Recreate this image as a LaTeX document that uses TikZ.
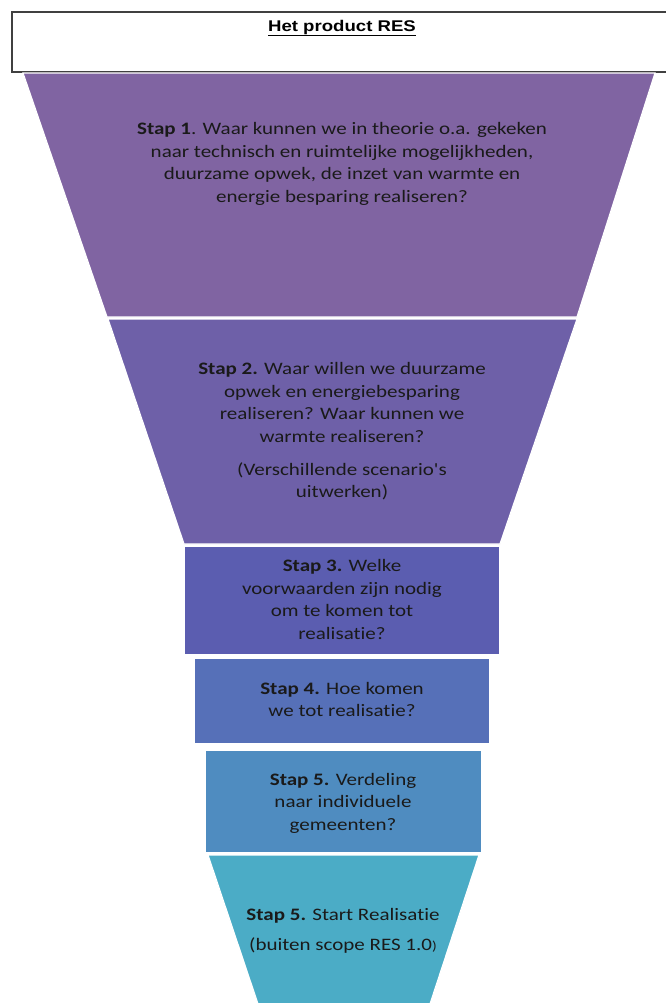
\documentclass[tikz,border=0pt]{standalone}
\usepackage{fontspec}
\setmainfont{Carlito}[Ligatures={NoCommon}]
\newfontfamily\arialfont{Liberation Sans}
\definecolor{cA}{HTML}{8064A2}
\definecolor{cB}{HTML}{6E60A8}
\definecolor{cC}{HTML}{5B5DB0}
\definecolor{cD}{HTML}{5670B8}
\definecolor{cE}{HTML}{4F8CC0}
\definecolor{cF}{HTML}{4BACC6}
\definecolor{txt}{HTML}{1A1A1A}
\newcommand{\wide}[1]{\scalebox{1.2}[1]{\begin{tabular}{@{}c@{}}#1\end{tabular}}}
\begin{document}
\begin{tikzpicture}[x=1pt,y=-1pt,
  seg/.style={draw=white,line width=1.2pt},
  lbl/.style={align=center,text=txt,font=\fontsize{17.5}{22.5}\selectfont,inner sep=0pt}]
\useasboundingbox (0,0) rectangle (665,1003);
% title box
\draw[draw=black!75,line width=1.2pt,fill=white] (12,12) rectangle (668,72);
\node[font=\arialfont\bfseries\fontsize{15.5}{18}\selectfont,inner sep=0pt] (title) at (342,28) {\scalebox{1.2}[1]{\underline{Het product RES}}};
% funnel pieces
\fill[cA,seg] (23,73) -- (655,73) -- (577,317) -- (107,317) -- cycle;
\fill[cB,seg] (108,319) -- (577,319) -- (500,544) -- (184,544) -- cycle;
\fill[cC,seg] (184,546) rectangle (500,655);
\fill[cD,seg] (194,658) rectangle (490,744);
\fill[cE,seg] (205,750) rectangle (482,853);
\fill[cF,seg] (208,855) -- (479,855) -- (430,1004) -- (258,1004) -- cycle;
% texts
\node[lbl] (s1) at (342,164) {\wide{\textbf{Stap 1}. Waar kunnen we in theorie o.a. gekeken\\naar technisch en ruimtelijke mogelijkheden,\\duurzame opwek, de inzet van warmte en\\energie besparing realiseren?}};
\node[lbl] (s2) at (342,404) {\wide{\textbf{Stap 2.} Waar willen we duurzame\\opwek en energiebesparing\\realiseren? Waar kunnen we\\warmte realiseren?}};
\node[lbl] (s2b) at (342,482) {\wide{(Verschillende scenario\textquotesingle s\\uitwerken)}};
\node[lbl] (s3) at (342,601) {\wide{\textbf{Stap 3.} Welke\\voorwaarden zijn nodig\\om te komen tot\\realisatie?}};
\node[lbl] (s4) at (342,701) {\wide{\textbf{Stap 4.} Hoe komen\\we tot realisatie?}};
\node[lbl] (s5) at (343,803) {\wide{\textbf{Stap 5.} Verdeling\\naar individuele\\gemeenten?}};
\node[lbl] (s6) at (343,916) {\wide{\textbf{Stap 5.} Start Realisatie}};
\node[lbl] (s6b) at (343,946) {\wide{(buiten scope RES 1.0{\fontsize{13}{15}\selectfont)}}};
\end{tikzpicture}
\end{document}
